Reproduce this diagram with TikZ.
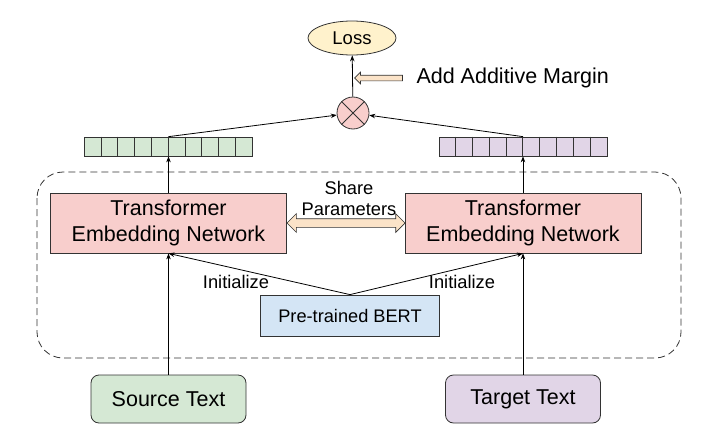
\documentclass[tikz,border=0pt]{standalone}
\usepackage{fontspec}
\setmainfont{Liberation Sans}
\usetikzlibrary{shapes.geometric,shapes.arrows,arrows.meta}
\definecolor{pinkc}{HTML}{F8CECC}
\definecolor{greenc}{HTML}{D5E8D4}
\definecolor{purplec}{HTML}{E1D5E7}
\definecolor{bluec}{HTML}{D4E5F5}
\definecolor{yellowc}{HTML}{FFF2CC}
\definecolor{orangec}{HTML}{FBE3C8}
\definecolor{edgec}{HTML}{333333}
\begin{document}
\begin{tikzpicture}[x=1pt,y=-1pt,
  netbox/.style={draw=edgec, line width=0.8pt, fill=pinkc, minimum width=236pt, minimum height=60pt, align=center, inner sep=0pt, font=\fontsize{21.5}{26}\selectfont},
  textbox/.style={draw=edgec, line width=0.8pt, rounded corners=8pt, minimum width=155pt, minimum height=48pt, inner sep=0pt, font=\fontsize{21.5}{25}\selectfont},
  vecbox/.style={draw=edgec, line width=0.7pt, minimum width=168pt, minimum height=19pt, inner sep=0pt},
  lbl/.style={font=\fontsize{18.3}{21}\selectfont},
  conn/.style={-{Stealth[length=6pt,width=4.5pt]}, line width=0.8pt, draw=black},
]
\useasboundingbox (0,0) rectangle (702,447);

% dashed container
\draw[edgec, line width=0.8pt, dash pattern=on 7pt off 4pt, rounded corners=26pt] (37,172) rectangle (681,358);

% top
\node[ellipse, draw=edgec, line width=0.8pt, fill=yellowc, minimum width=88pt, minimum height=34pt, inner sep=0pt, font=\fontsize{18.5}{22}\selectfont] (loss) at (352,38) {Loss};
\node[circle, draw=edgec, line width=0.8pt, fill=pinkc, minimum size=32pt, inner sep=0pt] (mul) at (353,113) {};
\draw[edgec, line width=0.8pt] (mul.north west) -- (mul.south east) (mul.north east) -- (mul.south west);
\draw[conn] (mul) -- (loss);

\node[single arrow, shape border rotate=180, draw=edgec, line width=0.7pt, fill=orangec, minimum height=48pt, inner sep=0pt, inner ysep=2.5pt, single arrow head extend=3pt] (marg) at (380,78) {};
\node[anchor=west, font=\fontsize{21.5}{25}\selectfont] (margt) at (413,78) {Add Additive Margin};

% vectors
\node[vecbox, fill=greenc] (lvec) at (168.5,146.5) {};
\node[vecbox, fill=purplec] (rvec) at (523,146.5) {};
\foreach \i in {1,...,9}{
  \draw[edgec, line width=0.7pt] (lvec.north west) ++(\i*16.8,0) -- ++(0,19);
  \draw[edgec, line width=0.7pt] (rvec.north west) ++(\i*16.8,0) -- ++(0,19);
}
\draw[conn] (lvec.north) -- (mul);
\draw[conn] (rvec.north) -- (mul);

% networks
\node[netbox] (lbox) at (168.5,223) {Transformer\\Embedding Network};
\node[netbox] (rbox) at (523,223) {Transformer\\Embedding Network};
\draw[conn] (lbox.north) -- (lvec.south);
\draw[conn] (rbox.north) -- (rvec.south);

\node[double arrow, draw=edgec, line width=0.7pt, fill=orangec, minimum height=118pt, inner sep=0pt, inner ysep=4pt, double arrow head extend=5pt] (share) at (346,223) {};
\node[lbl, align=center] (sharet) at (349,198.5) {Share\\Parameters};

% BERT
\node[draw=edgec, line width=0.8pt, fill=bluec, minimum width=179pt, minimum height=41pt, inner sep=0pt, font=\fontsize{18.2}{21}\selectfont] (bert) at (350,315.5) {Pre-trained BERT};
\draw[conn] (bert.north) -- (lbox.south);
\draw[conn] (bert.north) -- (rbox.south);
\node[lbl] (initl) at (236,282) {Initialize};
\node[lbl] (initr) at (462,282) {Initialize};

% inputs
\node[textbox, fill=greenc] (src) at (168.5,399) {Source Text};
\node[textbox, fill=purplec] (tgt) at (523,399) {Target Text};
\draw[conn] (src) -- (lbox);
\draw[conn] (tgt) -- (rbox);
\end{tikzpicture}
\end{document}
